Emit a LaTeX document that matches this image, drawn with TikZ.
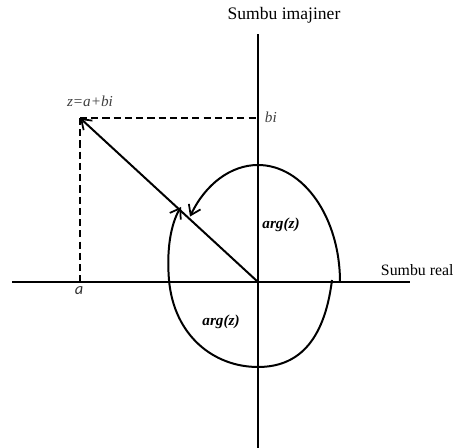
\documentclass[tikz,border=0pt]{standalone}
\usepackage{fontspec}
\setmainfont{Liberation Serif}
\newfontfamily\labelsans{Carlito}
\usetikzlibrary{calc,arrows.meta}

\begin{document}
\begin{tikzpicture}[x=0.3mm, y=0.3mm, line width=1.7pt,
    vec/.style={-{Straight Barb[length=8pt,width=11pt,line width=1.5pt]}},
    guide/.style={dash pattern=on 6pt off 3.6pt, line width=1.7pt},
    axislabel/.style={font=\fontsize{15}{17}\selectfont, inner sep=0pt},
    arglabel/.style={font=\fontsize{13}{14}\selectfont\bfseries\itshape, inner sep=0pt}]
  \clip (0, 0) rectangle (453, 448);

  \coordinate (O) at (258, 166);
  \coordinate (Z) at (80, 330);
  \coordinate (L) at (12, 166);
  \coordinate (R) at (410, 166);
  \coordinate (T) at (258, 414);
  \coordinate (B) at (258, 0);
  \coordinate (A) at (80, 166);
  \coordinate (BI) at (258, 330);

  % sumbu
  \draw[line width=1.8pt] (L) -- (R);
  \draw[line width=1.8pt] (B) -- (T);

  % proyeksi z ke sumbu
  \draw[guide] (Z) -- (BI);
  \draw[guide] (Z) -- (A);

  % vektor z
  \draw[vec] (O) -- (Z);

  % busur arg(z) positif
  \draw[vec] (340, 166) arc[start angle=0, end angle=146, x radius=82, y radius=117];

  % busur arg(z) negatif
  \draw[vec] (332, 168) .. controls (324, 104) and (296, 81) .. (258, 81)
    .. controls (214, 81) and (174, 112) .. (169, 168)
    .. controls (166, 205) and (173, 228) .. (181, 241);

  \node[axislabel] (imlabel) at (284, 433) {Sumbu imajiner};
  \node[axislabel, font=\fontsize{13.5}{16}\selectfont, anchor=west] (relabel) at (380, 178) {Sumbu real};
  \node[font=\fontsize{13}{14}\selectfont\itshape, text=black!75, inner sep=0pt]
    (zlabel) at (90, 347) {z=a+bi};
  \node[font=\fontsize{13}{14}\selectfont\itshape, text=black!75, anchor=west, inner sep=0pt]
    (bilabel) at (264, 331) {bi};
  \node[font=\fontsize{14}{15}\selectfont\labelsans\itshape, text=black!80, inner sep=0pt]
    (alabel) at (79, 157) {a};
  \node[arglabel] (argup) at (281, 223) {arg(z)};
  \node[arglabel] (argdown) at (221, 126) {arg(z)};
\end{tikzpicture}
\end{document}
